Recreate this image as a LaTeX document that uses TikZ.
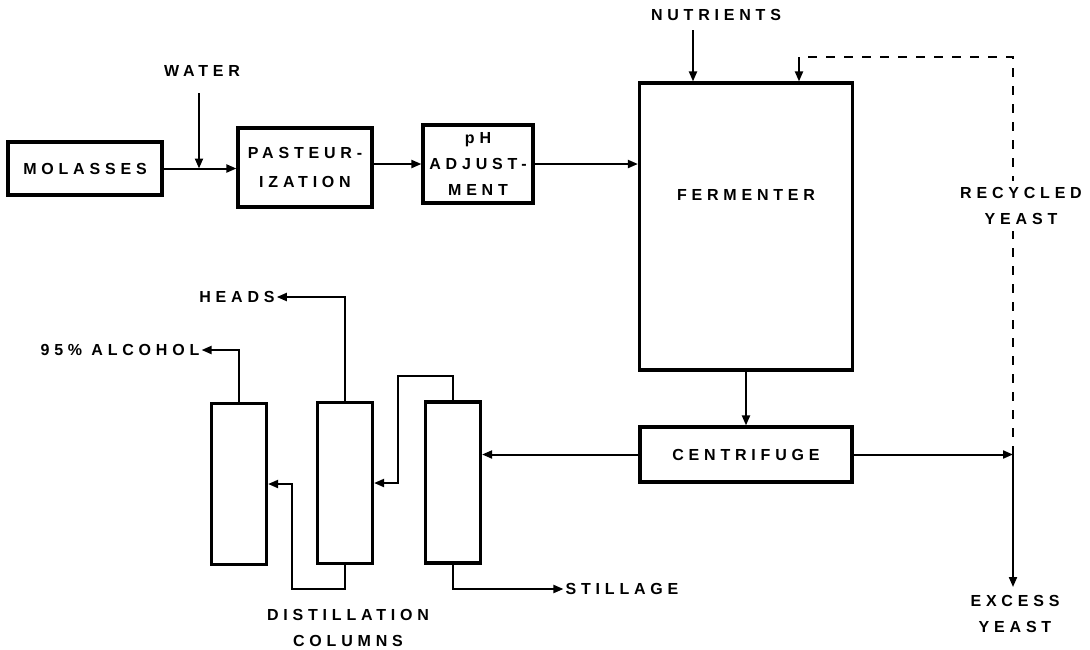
\documentclass[tikz,border=0pt]{standalone}
\usepackage{fontspec}
\setmainfont{Liberation Sans}
\newfontfamily\lblfont[LetterSpace=30]{Liberation Sans Bold}
\usetikzlibrary{arrows.meta}

\tikzset{
  unit/.style={draw, line width=3.2pt, inner sep=0pt},
  column/.style={unit, minimum width=55pt, minimum height=161pt},
  lbl/.style={font=\lblfont\fontsize{16}{26}\selectfont, align=center, inner sep=2pt},
  flow/.style={line width=2pt, -{Triangle[length=10pt,width=8pt]}},
  recycle/.style={line width=2pt, dash pattern=on 9pt off 9pt},
}

\begin{document}
\begin{tikzpicture}[x=1pt, y=-1pt]
		\useasboundingbox (0,0) rectangle (1090,649);
		
		% --- process units ---
		\node[unit, lbl, minimum width=154pt, minimum height=53pt] (molasses) at (85,168.5) {MOLASSES};
		\node[unit, lbl, minimum width=134pt, minimum height=79pt] (pasteur) at (305,167.5) {PASTEUR-\\[3pt]IZATION};
		\node[unit, lbl, minimum width=110pt, minimum height=78pt] (phadj) at (478,164) {pH\\ADJUST-\\MENT};
		\node[unit, minimum width=213pt, minimum height=287pt] (fermenter) at (746,226.5) {};
		\node[lbl] (fermtext) at (746,195) {FERMENTER};
		\node[unit, lbl, minimum width=212pt, minimum height=55pt] (centrifuge) at (746,454.5) {CENTRIFUGE};
		
		% distillation columns
		\node[column] (col1) at (239,484) {};
		\node[column] (col2) at (345,483) {};
		\node[column] (col3) at (453,482.5) {};
		
		% --- stream labels ---
		\node[lbl] (water) at (202,71) {WATER};
		\node[lbl] (nutrients) at (716,15) {NUTRIENTS};
		\node[lbl] (excess) at (1015,614) {EXCESS\\YEAST};
		\node[lbl] (distil) at (348,628) {DISTILLATION\\COLUMNS};
		\node[lbl] (heads) at (237,297) {HEADS};
		\node[lbl] (alcohol) at (120,350) {95\% ALCOHOL};
		\node[lbl] (stillage) at (622,589) {STILLAGE};
		
		% --- free ends and bends ---
		\coordinate (waterin) at (199,93);
		\coordinate (nutrin) at (693,30);
		\coordinate (rtop) at (1013,57);
		\coordinate (rstub) at (799,57);
		\coordinate (split) at (1013,454.5);
		\coordinate (xout) at (1013,587);
		\coordinate (cross) at (398,376);
		\coordinate (under) at (292,589);
		
		% --- main line ---
		\draw[flow] (molasses.east) -- (molasses.east -| pasteur.west);
		\draw[flow] (waterin) -- (waterin |- molasses.east);
		\draw[flow] (pasteur.east |- phadj.west) -- (phadj.west);
		\draw[flow] (phadj.east) -- (phadj.east -| fermenter.west);
		\draw[flow] (nutrin) -- (nutrin |- fermenter.north);
		\draw[flow] (fermenter.south) -- (centrifuge.north);
		
		% --- yeast ---
		\draw[flow] (centrifuge.east) -- (split);
		\draw[flow] (split) -- (xout);
		\draw[recycle] (split) -- (rtop) -- (rstub);
		\draw[flow] (rstub) -- (rstub |- fermenter.north);
		% label sits over the dashed return line
		\node[lbl, fill=white, inner sep=6pt] (recycled) at (1021,206) {RECYCLED\\YEAST};
		
		% --- distillation ---
		\draw[flow] (centrifuge.west) -- (centrifuge.west -| col3.east);
		\draw[flow] (col3.north) |- (cross) |- (col2.east);
		\draw[flow] (col2.south) |- (under) |- (col1.east);
		\draw[flow] (col3.south) |- (stillage.west);
		\draw[flow] (col1.north) |- (alcohol.east);
		\draw[flow] (col2.north) |- (heads.east);
		
	\end{tikzpicture}
\end{document}
